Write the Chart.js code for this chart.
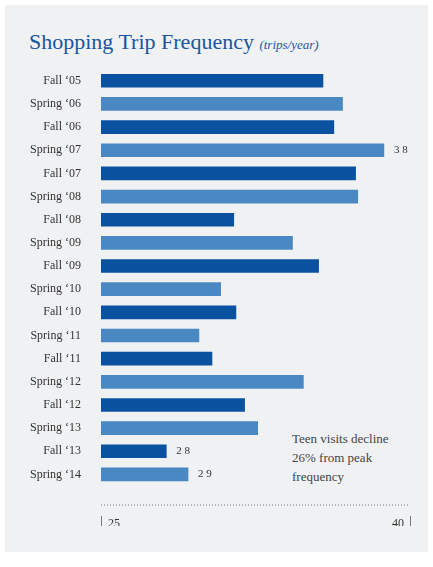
<!DOCTYPE html><html><head><meta charset="utf-8">
<script src="https://cdn.jsdelivr.net/npm/chart.js@4"></script>
<style>
body{margin:0;background:#fff;font-family:"Liberation Serif",serif}
#panel{position:absolute;left:5px;top:5px;width:423px;height:547px;background:#f0f1f3}
#title{position:absolute;left:29px;top:29px;color:#1a55a0;font-size:22px;white-space:nowrap}
#title i{font-size:13px}
#note{position:absolute;left:292px;top:429px;color:#444;font-size:13px;line-height:19px}
#wrap{position:absolute;left:5px;top:50px;width:423px;height:476px}
</style></head><body>
<div id="panel"></div>
<div id="title">Shopping Trip Frequency <i>(trips/year)</i></div>
<div id="note">Teen visits decline<br>26% from peak<br>frequency</div>
<div id="wrap"><canvas id="c"></canvas></div>
<script>
const categories=["Fall ‘05","Spring ‘06","Fall ‘06","Spring ‘07","Fall ‘07","Spring ‘08","Fall ‘08","Spring ‘09","Fall ‘09","Spring ‘10","Fall ‘10","Spring ‘11","Fall ‘11","Spring ‘12","Fall ‘12","Spring ‘13","Fall ‘13","Spring ‘14"];
const values=[35.2,36.1,35.7,38,36.7,36.8,31.1,33.8,35.0,30.5,31.2,29.5,30.1,34.3,31.6,32.2,28,29];
const labelled=[3,16,17];
const tickLabels=["25","40"];
const colors=categories.map(c=>c.startsWith("Fall")?"#0a52a0":"#4a88c4");
const extras={id:"extras",afterDatasetsDraw(ch){
 const ctx=ch.ctx,x=ch.scales.x,meta=ch.getDatasetMeta(0);
 ctx.save();ctx.font="11px 'Liberation Serif'";ctx.fillStyle="#333";ctx.textBaseline="middle";
 labelled.forEach(i=>{const b=meta.data[i];ctx.fillText(String(values[i]).split("").join(" "),b.x+10,b.y);});
 const y=ch.chartArea.bottom+19;ctx.strokeStyle="#777";ctx.setLineDash([1,2]);ctx.beginPath();
 ctx.moveTo(x.left,y);ctx.lineTo(x.right,y);ctx.stroke();ctx.setLineDash([]);
 [x.left,x.right].forEach(px=>{ctx.beginPath();ctx.moveTo(px+0.5,y+11);ctx.lineTo(px+0.5,y+27);ctx.stroke();});
 ctx.font="12px 'Liberation Serif'";
 ctx.textAlign="left";ctx.fillText(tickLabels[0],x.left+7,y+19);
 ctx.textAlign="right";ctx.fillText(tickLabels[1],x.right-6,y+19);
 ctx.restore();}};
new Chart(document.getElementById("c"),{type:"bar",
 data:{labels:categories,datasets:[{data:values,backgroundColor:colors,barThickness:13}]},
 options:{indexAxis:"y",responsive:true,maintainAspectRatio:false,animation:false,
  layout:{padding:{right:18,top:0,bottom:0}},
  plugins:{legend:{display:false},tooltip:{enabled:false}},
  scales:{
   y:{grid:{display:false},border:{display:false},afterFit(s){s.width=96;},
      ticks:{color:"#333",font:{family:"Liberation Serif",size:12},padding:12}},
   x:{min:25,max:39.2,grid:{display:false},border:{display:false},
      afterFit(s){s.height=40;},ticks:{display:false}}}},
 plugins:[extras]});
</script></body></html>
